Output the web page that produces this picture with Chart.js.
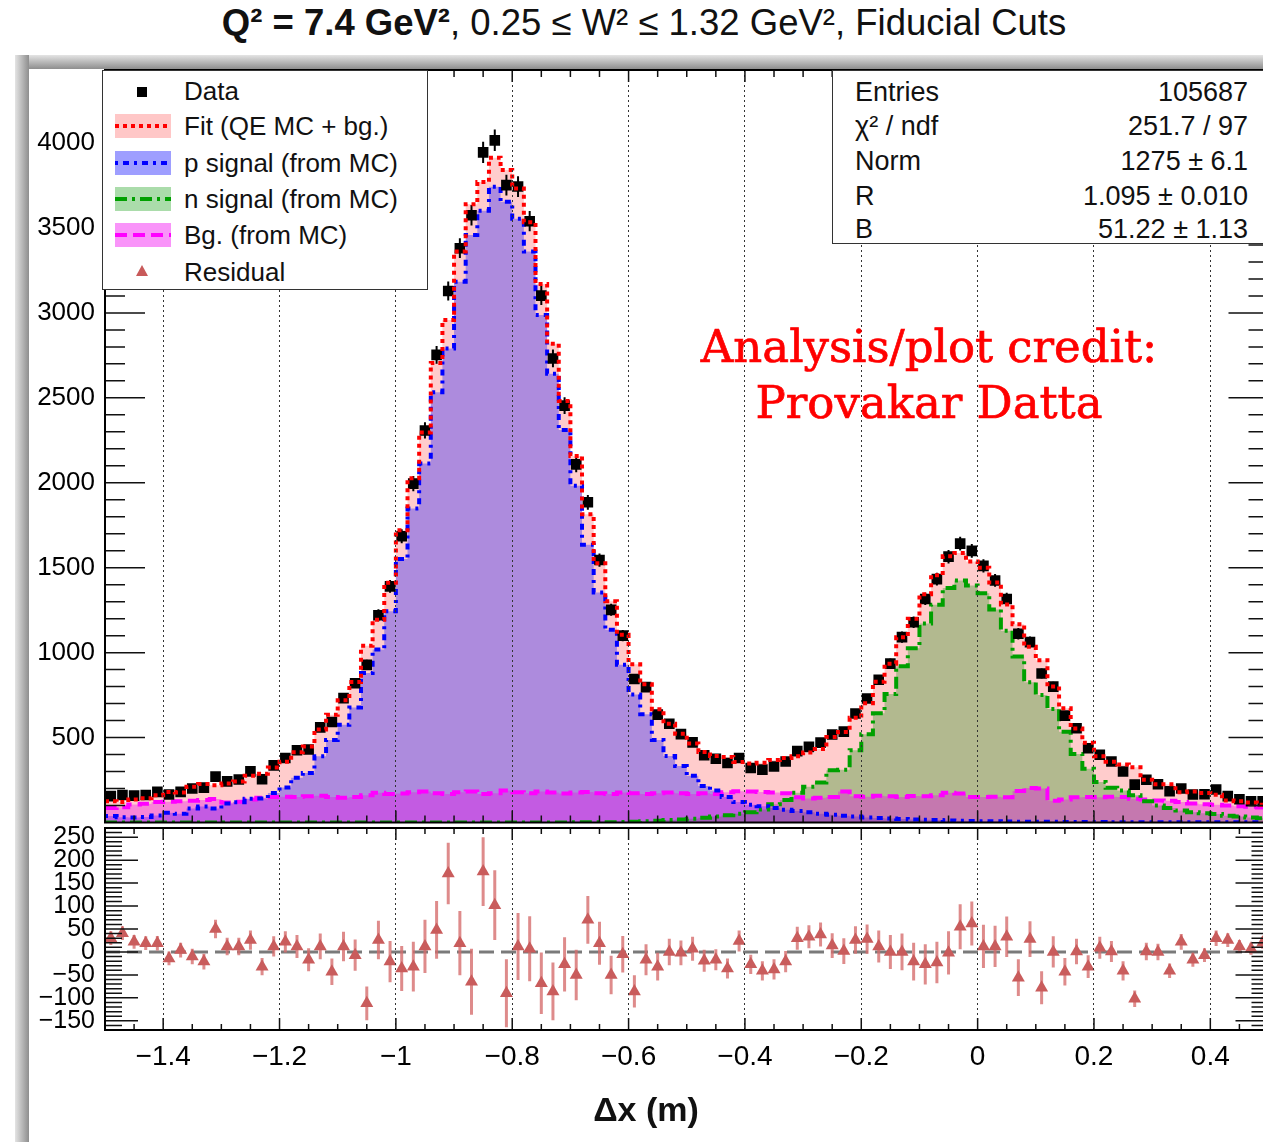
<!DOCTYPE html>
<html>
<head>
<meta charset="utf-8">
<title>Delta x fit</title>
<script src="https://cdn.jsdelivr.net/npm/chart.js@4.4.1/dist/chart.umd.min.js"></script>
<style>
html, body { margin: 0; padding: 0; width: 1263px; height: 1142px; overflow: hidden; background: #fff; }
body { font-family: "Liberation Sans", Arial, Helvetica, sans-serif; color: #111; }
#wrap { position: relative; width: 1300px; height: 1142px; overflow: hidden; }
canvas { position: absolute; left: 0; }
#cTop { top: 60px; }
#cRes { top: 820px; }
.shadeTop { position: absolute; left: 15px; top: 55px; width: 1285px; height: 14px; background: linear-gradient(#e4e4e4, #8e8e8e); }
.shadeLeft { position: absolute; left: 15px; top: 55px; width: 14px; height: 1087px; background: linear-gradient(90deg, #e4e4e4, #8e8e8e); }
.title { position: absolute; left: 0; width: 1288px; top: 3px; text-align: center; font-size: 36.5px; line-height: 40px; white-space: nowrap; }
.box { position: absolute; background: #fff; border: 1.5px solid #333; }
.row { position: absolute; height: 30px; line-height: 30px; white-space: nowrap; }
.legtext { font-size: 26px; }
.stat { font-size: 27px; }
.val { left: 948px; width: 300px; text-align: right; }
.credit { position: absolute; left: 629px; width: 600px; text-align: center; font-family: "DejaVu Serif", serif; font-size: 45px; line-height: 52px; color: #f00; white-space: nowrap; -webkit-text-stroke: 0.7px #f00; }
.xtitle { position: absolute; left: 546px; width: 200px; top: 1089px; text-align: center; font-size: 34px; line-height: 40px; font-weight: bold; }
svg { position: absolute; }
</style>
</head>
<body>
<div id="wrap">
  <div class="shadeTop"></div>
  <div class="shadeLeft"></div>
  <div class="title"><b>Q² = 7.4 GeV²</b>, 0.25 ≤ W² ≤ 1.32 GeV², Fiducial Cuts</div>

  <canvas id="cTop" width="1276" height="770"></canvas>
  <canvas id="cRes" width="1276" height="322"></canvas>

  <!-- legend -->
  <div class="box" style="left:102px; top:70px; width:324px; height:218px;">
    <svg style="left:33px; top:15px;" width="12" height="12"><rect x="1" y="1" width="10" height="10" fill="#000"/></svg>
    <svg style="left:12px; top:43px;" width="56" height="24"><rect width="56" height="24" fill="rgba(255,0,0,0.22)"/><line x1="0" y1="12" x2="56" y2="12" stroke="#f00" stroke-width="4" stroke-dasharray="4 4"/></svg>
    <svg style="left:12px; top:80px;" width="56" height="24"><rect width="56" height="24" fill="rgba(0,0,255,0.38)"/><line x1="0" y1="12" x2="56" y2="12" stroke="#00f" stroke-width="4" stroke-dasharray="3 5 6 5"/></svg>
    <svg style="left:12px; top:116px;" width="56" height="24"><rect width="56" height="24" fill="rgba(0,150,0,0.33)"/><line x1="0" y1="12" x2="56" y2="12" stroke="#00a000" stroke-width="4" stroke-dasharray="12 5 3 5"/></svg>
    <svg style="left:12px; top:152px;" width="56" height="24"><rect width="56" height="24" fill="rgba(240,0,240,0.42)"/><line x1="0" y1="12" x2="56" y2="12" stroke="#f0f" stroke-width="4" stroke-dasharray="12 6"/></svg>
    <svg style="left:32px; top:193px;" width="14" height="14"><polygon points="7,1 13,12 1,12" fill="#c85a5a"/></svg>
    <div class="row legtext" style="left:81px; top:5px;">Data</div>
    <div class="row legtext" style="left:81px; top:40px;">Fit (QE MC + bg.)</div>
    <div class="row legtext" style="left:81px; top:77px;">p signal (from MC)</div>
    <div class="row legtext" style="left:81px; top:113px;">n signal (from MC)</div>
    <div class="row legtext" style="left:81px; top:149px;">Bg. (from MC)</div>
    <div class="row legtext" style="left:81px; top:186px;">Residual</div>
  </div>

  <!-- stats box -->
  <div class="box" style="left:832px; top:70px; width:440px; height:172px;"></div>
  <div class="row stat" style="left:855px; top:77px;">Entries</div>
  <div class="row stat" style="left:855px; top:111px;">χ² / ndf</div>
  <div class="row stat" style="left:855px; top:146px;">Norm</div>
  <div class="row stat" style="left:855px; top:181px;">R</div>
  <div class="row stat" style="left:855px; top:214px;">B</div>
  <div class="row stat val" style="top:77px;">105687</div>
  <div class="row stat val" style="top:111px;">251.7 / 97</div>
  <div class="row stat val" style="top:146px;">1275 ± 6.1</div>
  <div class="row stat val" style="top:181px;">1.095 ± 0.010</div>
  <div class="row stat val" style="top:214px;">51.22 ± 1.13</div>

  <div class="credit" style="top:321px;">Analysis/plot credit:</div>
  <div class="credit" style="top:377px;">Provakar Datta</div>

  <div class="xtitle">Δx (m)</div>
</div>

<script>
// binning of the histogram (100 bins in delta x)
const xLow = -1.5;
const xHigh = 0.5;
const binWidth = 0.02;

const xMajorTicks = [-1.4, -1.2, -1, -0.8, -0.6, -0.4, -0.2, 0, 0.2, 0.4];
const yTopTicks = [500, 1000, 1500, 2000, 2500, 3000, 3500, 4000];
const yResTicks = [-150, -100, -50, 0, 50, 100, 150, 200, 250];

// measured counts per bin
const dataCounts = [155,162,158,162,180,165,180,200,205,270,
  242,253,301,255,336,380,425,430,560,592,
  732,820,928,1220,1390,1685,1995,2308,2753,3129,
  3381,3575,3945,4016,3752,3744,3540,3102,2732,2454,
  2108,1885,1545,1252,1100,845,797,635,581,520,
  472,396,375,350,380,321,311,330,359,420,
  445,470,518,535,642,730,840,935,1091,1179,
  1316,1433,1565,1642,1599,1511,1425,1316,1111,1062,
  877,800,629,555,437,399,359,300,223,252,
  225,184,200,165,166,194,155,137,125,125];

// fit = QE MC (p + n) + bg
const fitTotal = [125,121,136,143,161,179,176,210,226,220,
  230,241,275,287,324,358,413,447,548,635,
  720,827,1040,1194,1411,1721,2027,2296,2705,2958,
  3362,3640,3770,3914,3842,3732,3533,3170,2818,2481,
  2158,1815,1526,1302,1105,931,814,667,581,522,
  465,415,392,386,356,348,352,368,380,390,
  412,432,504,533,616,702,828,935,1091,1200,
  1343,1456,1567,1587,1537,1499,1413,1283,1167,1034,
  955,800,672,554,469,390,358,341,325,251,
  225,225,178,182,173,164,129,125,118,105];

const pSignal = [39,31,30,33,41,57,51,82,94,82,
  112,119,140,142,174,206,263,292,390,485,
  575,677,880,1019,1243,1551,1849,2114,2533,2790,
  3184,3458,3602,3742,3654,3554,3361,2988,2642,2311,
  1982,1635,1354,1134,929,754,638,485,391,332,
  275,215,189,150,120,105,95,85,75,67,
  60,52,46,40,35,30,27,24,21,18,
  16,14,12,10,9,8,7,6,5,5,
  4,4,3,3,3,3,2,2,2,2,
  2,2,2,1,1,1,1,1,1,1];

const nSignal = [0,0,0,0,0,0,0,0,0,0,
  0,0,0,0,0,0,0,0,0,0,
  0,0,0,0,0,0,0,0,0,0,
  0,0,0,0,0,0,0,0,0,0,
  1,1,2,2,3,5,8,10,14,18,
  22,28,35,42,52,61,77,107,133,175,
  210,235,308,311,426,520,643,756,920,1026,
  1172,1282,1380,1425,1395,1350,1254,1129,977,826,
  751,668,534,403,316,239,204,189,160,125,
  100,85,70,60,55,50,40,35,30,25];

const bgMC = [86,90,106,110,120,122,125,128,132,138,
  118,122,135,145,150,152,150,155,158,150,
  145,150,160,175,168,170,178,182,172,168,
  178,182,168,172,188,178,172,182,176,170,
  176,180,172,168,176,172,168,172,176,172,
  168,172,168,178,184,182,180,176,172,148,
  142,145,150,182,155,152,158,155,150,156,
  155,160,175,170,150,150,152,148,185,203,
  200,128,135,148,150,148,152,150,140,135,
  130,128,120,112,108,105,100,95,92,88];

// residual = data - fit, with its error
const residual = [30,41,22,19,19,-14,4,-10,-21,50,
  12,12,26,-32,12,22,12,-17,12,-43,
  12,-7,-112,26,-21,-36,-32,12,48,171,
  19,-65,175,102,-90,12,7,-68,-86,-27,
  -50,70,19,-50,-5,-86,-17,-32,0,-2,
  7,-19,-17,-36,24,-27,-41,-38,-21,30,
  33,38,14,2,26,28,12,0,0,-21,
  -27,-23,-2,55,62,12,12,33,-56,28,
  -78,0,-43,1,-32,9,1,-41,-102,1,
  0,-41,22,-17,-7,30,26,12,7,20];

const residualErr = [15,15,15,15,16,15,16,17,17,20,
  19,19,21,19,22,23,25,25,28,29,
  32,34,37,42,45,49,54,58,63,67,
  70,72,75,76,74,73,71,67,63,59,
  55,52,47,42,40,35,34,30,29,27,
  26,24,23,22,23,21,21,22,23,25,
  25,26,27,28,30,32,35,37,40,41,
  44,45,47,49,48,47,45,44,40,39,
  36,34,30,28,25,24,23,21,18,19,
  18,16,17,15,15,17,15,14,13,13];

const FONT = 'Liberation Sans';

// step outline: one point per low bin edge + closing point at the upper edge
function hist(vals) {
  const pts = vals.map((v, i) => ({ x: xLow + i * binWidth, y: v }));
  pts.push({ x: xLow + vals.length * binWidth, y: vals[vals.length - 1] });
  return pts;
}
function centers(vals) {
  return vals.map((v, i) => ({ x: xLow + (i + 0.5) * binWidth, y: v }));
}
function minusSign(v) {
  return String(v).replace('-', '\u2212');
}
// no extra room for half labels at the ends, the frame is placed by hand
function noPad(s) {
  s.paddingTop = 0; s.paddingBottom = 0; s.paddingLeft = 0; s.paddingRight = 0;
}

// ROOT style frame with inside ticks on all four sides
const rootFrame = {
  id: 'rootFrame',
  afterDraw(chart, args, o) {
    const { ctx, chartArea: a, scales } = chart;
    const x = scales.x, y = scales.y;
    ctx.save();
    ctx.strokeStyle = '#111';
    ctx.lineWidth = 1.5;
    ctx.beginPath();
    for (let k = 0; k <= 40; k++) {
      const v = xLow + k * 0.05;
      const px = x.getPixelForValue(v);
      const major = Math.abs(v / 0.2 - Math.round(v / 0.2)) < 1e-6;
      const L = major ? o.xMaj : o.xMin;
      ctx.moveTo(px, a.bottom); ctx.lineTo(px, a.bottom - L);
      ctx.moveTo(px, a.top); ctx.lineTo(px, a.top + L);
    }
    const k0 = Math.ceil(y.min / o.yStep), k1 = Math.floor(y.max / o.yStep);
    for (let k = k0; k <= k1; k++) {
      const v = k * o.yStep;
      if (v === 0 && o.skipZero) continue;
      const py = y.getPixelForValue(v);
      const L = (v % o.yMajStep === 0) ? o.yMaj : o.yMin;
      ctx.moveTo(a.left, py); ctx.lineTo(a.left + L, py);
      ctx.moveTo(a.right, py); ctx.lineTo(a.right - L, py);
    }
    ctx.stroke();
    ctx.lineWidth = 2;
    ctx.strokeStyle = '#000';
    ctx.strokeRect(a.left, a.top, a.right - a.left, a.bottom - a.top);
    ctx.restore();
  }
};

// vertical error bars on the data points
const dataErrors = {
  id: 'dataErrors',
  beforeDatasetDraw(chart, args) {
    if (chart.data.datasets[args.index].label !== 'Data') return;
    const { ctx, scales: { x, y } } = chart;
    ctx.save();
    ctx.strokeStyle = '#000';
    ctx.lineWidth = 2;
    ctx.beginPath();
    dataCounts.forEach((n, i) => {
      const px = x.getPixelForValue(xLow + (i + 0.5) * binWidth);
      const e = Math.sqrt(n); // Poisson error of the counts
      ctx.moveTo(px, y.getPixelForValue(n - e));
      ctx.lineTo(px, y.getPixelForValue(n + e));
    });
    ctx.stroke();
    ctx.restore();
  }
};

// zero line and error bars of the residual panel
const residualExtras = {
  id: 'residualExtras',
  beforeDatasetsDraw(chart) {
    const { ctx, chartArea: a, scales: { x, y } } = chart;
    ctx.save();
    const y0 = y.getPixelForValue(0);
    ctx.strokeStyle = '#7a7a7a';
    ctx.lineWidth = 3;
    ctx.setLineDash([15, 7]);
    ctx.beginPath(); ctx.moveTo(a.left, y0); ctx.lineTo(a.right, y0); ctx.stroke();
    ctx.setLineDash([]);
    ctx.strokeStyle = 'rgba(214,110,110,0.8)';
    ctx.lineWidth = 3;
    ctx.beginPath();
    residual.forEach((r, i) => {
      const px = x.getPixelForValue(xLow + (i + 0.5) * binWidth);
      ctx.moveTo(px, y.getPixelForValue(r - residualErr[i]));
      ctx.lineTo(px, y.getPixelForValue(r + residualErr[i]));
    });
    ctx.stroke();
    ctx.restore();
  }
};

function fillSet(vals, color, order) {
  return { data: hist(vals), stepped: true, fill: 'origin', backgroundColor: color,
    borderWidth: 0, pointRadius: 0, order: order };
}
function lineSet(vals, color, dash, order) {
  return { data: hist(vals), stepped: true, fill: false, borderColor: color,
    borderWidth: 4, borderDash: dash, pointRadius: 0, order: order };
}

const xAxisBase = {
  type: 'linear', min: xLow, max: xHigh,
  afterBuildTicks: s => { s.ticks = xMajorTicks.map(v => ({ value: v })); },
  grid: { color: '#333', lineWidth: 1, drawTicks: false, z: 1 },
  border: { display: false, dash: [2, 3] }
};

new Chart(document.getElementById('cTop'), {
  type: 'line',
  data: {
    datasets: [
      fillSet(fitTotal, 'rgba(255,0,0,0.2)', 10),
      fillSet(pSignal, 'rgba(0,0,255,0.32)', 9),
      fillSet(nSignal, 'rgba(0,140,0,0.3)', 8),
      fillSet(bgMC, 'rgba(235,0,235,0.35)', 7),
      lineSet(bgMC, '#ff00ff', [12, 6], 6),
      lineSet(nSignal, '#00a000', [12, 5, 3, 5], 5),
      lineSet(pSignal, '#0000ff', [3, 5, 6, 5], 4),
      { label: 'Data', data: centers(dataCounts), showLine: false, pointStyle: 'rect',
        pointRadius: 7.5, backgroundColor: '#000', borderColor: '#000', borderWidth: 0, order: 3 },
      lineSet(fitTotal, '#ff0000', [4, 4], 2)
    ]
  },
  options: {
    responsive: false, animation: false, events: [], devicePixelRatio: 1,
    layout: { padding: { top: 10, bottom: 3, left: 0, right: 0 } },
    plugins: {
      legend: { display: false }, tooltip: { enabled: false },
      rootFrame: { xMaj: 12, xMin: 7, yMaj: 40, yMin: 20, yStep: 100, yMajStep: 500, skipZero: true }
    },
    scales: {
      x: Object.assign({}, xAxisBase, {
        ticks: { display: false },
        afterFit: s => { s.height = 0; noPad(s); }
      }),
      y: {
        min: 0, max: 4430,
        afterBuildTicks: s => { s.ticks = yTopTicks.map(v => ({ value: v })); },
        ticks: { font: { family: FONT, size: 26 }, color: '#000', padding: 10, autoSkip: false,
          callback: v => String(v) },
        grid: { display: false, drawTicks: false },
        border: { display: false },
        afterFit: s => { s.width = 105; noPad(s); }
      }
    }
  },
  plugins: [rootFrame, dataErrors]
});

new Chart(document.getElementById('cRes'), {
  type: 'line',
  data: {
    datasets: [
      { label: 'Residual', data: centers(residual), showLine: false, pointStyle: 'triangle',
        pointRadius: 7.5, backgroundColor: '#c95c5c', borderColor: '#c95c5c', borderWidth: 0 }
    ]
  },
  options: {
    responsive: false, animation: false, events: [], devicePixelRatio: 1,
    layout: { padding: { top: 8, bottom: 0, left: 0, right: 0 } },
    plugins: {
      legend: { display: false }, tooltip: { enabled: false },
      rootFrame: { xMaj: 12, xMin: 6, yMaj: 33, yMin: 17, yStep: 10, yMajStep: 50, skipZero: false }
    },
    scales: {
      x: Object.assign({}, xAxisBase, {
        ticks: { font: { family: FONT, size: 28 }, color: '#000', padding: 10, maxRotation: 0,
          autoSkip: false, callback: v => minusSign(v) },
        afterFit: s => { s.height = 112; noPad(s); }
      }),
      y: {
        min: -170, max: 270,
        afterBuildTicks: s => { s.ticks = yResTicks.map(v => ({ value: v })); },
        ticks: { font: { family: FONT, size: 25 }, color: '#000', padding: 10, autoSkip: false,
          callback: v => minusSign(v) },
        grid: { display: false, drawTicks: false },
        border: { display: false },
        afterFit: s => { s.width = 105; noPad(s); }
      }
    }
  },
  plugins: [rootFrame, residualExtras]
});
</script>
</body>
</html>
